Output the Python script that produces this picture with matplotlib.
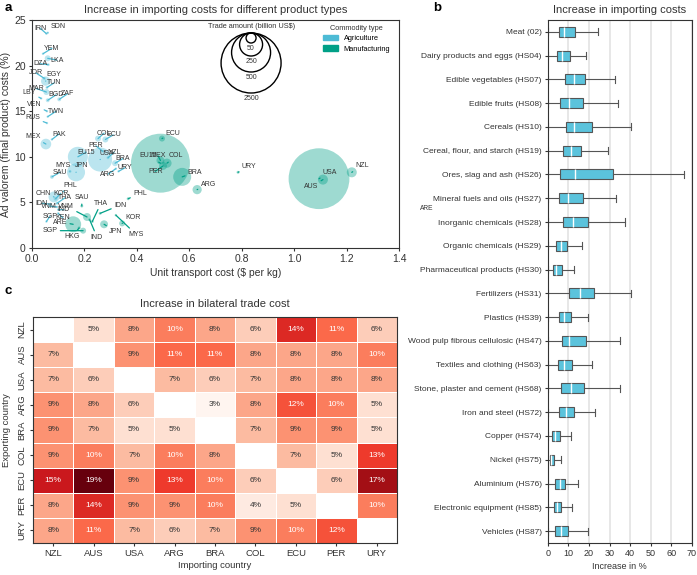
import matplotlib
matplotlib.use("Agg")
import matplotlib.pyplot as plt
from matplotlib.patches import Patch
import numpy as np

plt.rcParams["font.family"] = ["Liberation Sans", "DejaVu Sans"]

AGRI = "#4DBBD5"
MANU = "#00A087"
BOX = "#5BC3DC"
DARK = "#333333"
DPI = 100

# ---------------- panel a data ----------------
agri_names = ["IRN", "SDN", "YEM", "LKA", "DZA", "JOR", "EGY", "TUN", "MAR", "LBY",
              "BGD", "ZAF", "VEN", "TWN", "RUS", "MEX", "PAK", "COL", "ECU", "PER",
              "EU15", "USA", "NZL", "BRA", "URY", "ARG", "MYS", "JPN", "SAU", "CHN",
              "KOR", "PHL", "THA", "IDN", "VNM", "IND", "SGP", "KEN"]
agri_x = [0.055, 0.06, 0.042, 0.06, 0.062, 0.047, 0.052, 0.057, 0.055, 0.035,
          0.06, 0.104, 0.057, 0.06, 0.057, 0.053, 0.076, 0.252, 0.28, 0.27,
          0.175, 0.26, 0.29, 0.317, 0.33, 0.32, 0.145, 0.168, 0.076, 0.084,
          0.09, 0.12, 0.095, 0.07, 0.095, 0.10, 0.055, 0.10]
agri_y = [23.5, 23.6, 21.3, 20.8, 20.1, 18.6, 18.3, 17.6, 17.1, 16.4,
          16.2, 16.3, 15.0, 14.4, 13.7, 11.4, 11.9, 12.0, 11.9, 10.6,
          10.0, 9.7, 9.9, 9.3, 8.4, 8.7, 8.4, 8.3, 7.8, 5.6,
          5.4, 6.2, 4.9, 4.8, 4.5, 4.2, 2.9, 3.8]
agri_trade = [3, 3, 3, 25, 6, 6, 45, 6, 25, 3,
              12, 12, 3, 3, 3, 60, 3, 25, 25, 3,
              204, 266, 6, 25, 3, 3, 6, 173, 12, 65,
              12, 3, 6, 6, 3, 3, 3, 3]
agri_lab_x = [0.031, 0.099, 0.076, 0.095, 0.031, 0.015, 0.084, 0.084, 0.015, -0.01,
              0.092, 0.135, 0.008, 0.092, 0.004, 0.004, 0.103, 0.275, 0.31, 0.244,
              0.206, 0.286, 0.313, 0.347, 0.355, 0.29, 0.118, 0.19, 0.107, 0.042,
              0.11, 0.145, 0.126, 0.038, 0.065, 0.122, 0.069, 0.118]
agri_lab_y = [24.1, 24.3, 21.9, 20.6, 20.2, 19.2, 19.0, 18.1, 17.5, 17.1,
              16.8, 16.9, 15.7, 15.0, 14.3, 12.2, 12.5, 12.6, 12.4, 11.2,
              10.5, 10.4, 10.5, 9.8, 8.8, 8.1, 9.1, 9.0, 8.3, 6.0,
              6.0, 6.9, 5.5, 4.9, 4.6, 4.2, 3.5, 3.3]

manu_names = ["ECU", "EU15", "MEX", "COL", "PER", "BRA", "ARG", "URY", "USA", "AUS",
              "NZL", "PHL", "IDN", "THA", "IND", "SGP", "HKG", "JPN", "KOR", "MYS",
              "SAU", "VNM", "ARE"]
manu_x = [0.496, 0.49, 0.49, 0.515, 0.50, 0.573, 0.63, 0.786, 1.095, 1.11,
          1.22, 0.367, 0.26, 0.23, 0.22, 0.195, 0.18, 0.275, 0.344, 0.32,
          0.19, 0.21, 0.157]
manu_y = [12.0, 9.3, 9.6, 9.3, 9.0, 7.8, 6.4, 8.3, 7.6, 7.5,
          8.3, 5.4, 3.8, 2.9, 3.1, 1.9, 2.2, 2.6, 2.7, 3.6,
          4.6, 3.4, 2.6]
manu_trade = [25, 2400, 37, 45, 37, 173, 45, 6, 2600, 50,
              50, 6, 6, 6, 6, 25, 6, 37, 25, 3,
              6, 37, 142]
manu_lab_x = [0.538, 0.443, 0.481, 0.55, 0.47, 0.622, 0.672, 0.828, 1.137, 1.065,
              1.26, 0.412, 0.336, 0.263, 0.248, 0.069, 0.153, 0.32, 0.385, 0.397,
              0.19, 0.13, 0.107]
manu_lab_y = [12.6, 10.1, 10.1, 10.1, 8.4, 8.3, 7.0, 8.9, 8.3, 6.7,
              9.0, 6.0, 4.7, 4.9, 1.2, 1.9, 1.3, 1.8, 3.3, 1.5,
              5.5, 4.6, 2.85]

size_breaks = [50, 250, 500, 2500]
# radius (px) scale for bubble sizes
SIZE_V = [0, 50, 250, 500, 2500, 5000]
SIZE_R = [1, 5, 11.5, 19.5, 30, 40]

# ---------------- panel b data ----------------
products = ["Meat (02)", "Dairy products and eggs (HS04)", "Edible vegetables (HS07)",
            "Edible fruits (HS08)", "Cereals (HS10)", "Cereal, flour, and starch (HS19)",
            "Ores, slag and ash (HS26)", "Mineral fuels and oils (HS27)",
            "Inorganic chemicals (HS28)", "Organic chemicals (HS29)",
            "Pharmaceutical products (HS30)", "Fertilizers (HS31)", "Plastics (HS39)",
            "Wood pulp fibrous cellulosic (HS47)", "Textiles and clothing (HS63)",
            "Stone, plaster and cement (HS68)", "Iron and steel (HS72)", "Copper (HS74)",
            "Nickel (HS75)", "Aluminium (HS76)", "Electronic equipment (HS85)",
            "Vehicles (HS87)"]
box_lo = [0.0] * 22
box_q1 = [5.2, 4.4, 8.1, 6.0, 8.6, 7.3, 5.7, 5.4, 7.3, 3.9, 2.4, 10.3, 5.4, 6.7,
          5.0, 6.4, 5.4, 2.1, 1.0, 3.7, 2.9, 3.4]
box_med = [7.7, 6.8, 12.5, 10.3, 12.7, 11.4, 13.0, 9.6, 12.2, 6.5, 4.2, 15.8, 8.0, 10.3,
           7.8, 11.4, 8.8, 3.4, 1.6, 5.7, 4.4, 6.5]
box_q3 = [13.0, 10.7, 18.1, 17.1, 21.7, 16.3, 31.9, 16.9, 19.5, 9.1, 6.8, 22.6, 11.2, 18.4,
          11.9, 17.8, 12.5, 5.9, 2.9, 8.3, 6.5, 9.6]
box_hi = [24.4, 18.7, 32.6, 34.0, 40.6, 29.3, 66.4, 32.9, 37.6, 16.6, 12.9, 40.6, 19.4, 35.2,
          21.5, 35.0, 23.0, 11.4, 6.5, 14.7, 11.9, 19.5]

# ---------------- panel c data ----------------
countries = ["NZL", "AUS", "USA", "ARG", "BRA", "COL", "ECU", "PER", "URY"]
N = np.nan
bilateral = [
    [N, 5, 8, 10, 8, 6, 14, 11, 6],
    [7, N, 9, 11, 11, 8, 8, 8, 10],
    [7, 6, N, 7, 6, 7, 8, 8, 8],
    [9, 8, 6, N, 3, 8, 12, 10, 5],
    [9, 7, 5, 5, N, 7, 9, 9, 5],
    [9, 10, 7, 10, 8, N, 7, 5, 13],
    [15, 19, 9, 13, 10, 6, N, 6, 17],
    [8, 14, 9, 9, 10, 4, 5, N, 10],
    [8, 11, 7, 6, 7, 9, 10, 12, N],
]


def style_axes(ax):
    for sp in ax.spines.values():
        sp.set_color(DARK)
        sp.set_linewidth(0.8)
    ax.tick_params(length=2.5, width=0.8, pad=2, color=DARK, labelcolor=DARK)


def marker_area(trade):
    r = np.interp(trade, SIZE_V, SIZE_R)
    return (2 * r * 72 / DPI) ** 2


fig = plt.figure(figsize=(6.97, 5.75), dpi=DPI)
ax_a = fig.add_axes([0.0459, 0.5687, 0.5265, 0.3965])
ax_b = fig.add_axes([0.786, 0.0557, 0.2066, 0.9096])
ax_c = fig.add_axes([0.0473, 0.0557, 0.5222, 0.393])

# ---------------- panel a ----------------
groups = [
    (agri_names, agri_x, agri_y, agri_trade, agri_lab_x, agri_lab_y, AGRI),
    (manu_names, manu_x, manu_y, manu_trade, manu_lab_x, manu_lab_y, MANU),
]
for names, xs, ys, tr, lxs, lys, col in groups:
    ax_a.scatter(xs, ys, s=marker_area(tr), color=col, alpha=0.38, linewidths=0, zorder=2)
    for n, x, y, lx, ly in zip(names, xs, ys, lxs, lys):
        ax_a.annotate(n, xy=(x, y), xytext=(lx, ly), fontsize=5, color=DARK,
                      ha="center", va="center", annotation_clip=False, zorder=3,
                      arrowprops=dict(arrowstyle="-", color=col, lw=0.9,
                                      shrinkA=0, shrinkB=0))

ax_a.set_xlim(0, 1.4)
ax_a.set_ylim(0, 25)
ax_a.set_xticks(np.arange(0, 1.41, 0.2))
ax_a.set_yticks(range(0, 26, 5))
style_axes(ax_a)
ax_a.tick_params(labelsize=7.5)
ax_a.set_xlabel("Unit transport cost ($ per kg)", fontsize=7.5, color=DARK, labelpad=3)
ax_a.set_ylabel("Ad valorem (final product) costs (%)", fontsize=7.5, color=DARK)
ax_a.yaxis.set_label_coords(-0.058, 0.5)
ax_a.set_title("Increase in importing costs for different product types", fontsize=8,
               color=DARK, pad=5)

# size legend (nested circles, top aligned)
ax_h = 0.3965 * 575
top = 0.943
cx = 0.597
for v in size_breaks:
    r = np.interp(v, SIZE_V, SIZE_R)
    ax_a.scatter([cx], [top - r / ax_h], s=marker_area(v), transform=ax_a.transAxes,
                 facecolors="none", edgecolors="black", linewidths=1.0, clip_on=False, zorder=4)
    ax_a.text(cx, top - (2 * r + 5) / ax_h, str(v), transform=ax_a.transAxes, fontsize=5,
              ha="center", va="center", color=DARK)
ax_a.text(cx, 0.972, "Trade amount (billion US$)", transform=ax_a.transAxes, fontsize=5.3,
          ha="center", va="center", color=DARK)

leg = ax_a.legend(handles=[Patch(color=AGRI, label="Agriculture"),
                           Patch(color=MANU, label="Manufacturing")],
                  title="Commodity type", loc="upper right", bbox_to_anchor=(0.99, 1.0),
                  frameon=False, fontsize=5.3, title_fontsize=5.3, handlelength=2.0,
                  handleheight=0.75, labelspacing=0.4, borderaxespad=0.3)
leg.get_title().set_color(DARK)

fig.text(0.612, 0.638, "ARE", fontsize=4.8, color=DARK, ha="center", va="center")

# ---------------- panel b ----------------
stats = [dict(label=p, whislo=lo, q1=a, med=m, q3=b, whishi=h, fliers=[])
         for p, lo, a, m, b, h in zip(products, box_lo, box_q1, box_med, box_q3, box_hi)]
ax_b.bxp(stats, positions=range(len(products)), orientation="horizontal", widths=0.42,
         patch_artist=True, capwidths=0.3, showfliers=False,
         boxprops=dict(facecolor=BOX, edgecolor="#555555", linewidth=0.8),
         medianprops=dict(color="white", linewidth=1.0),
         whiskerprops=dict(color="#555555", linewidth=0.8),
         capprops=dict(color="#555555", linewidth=0.8))
ax_b.set_ylim(len(products) - 0.5, -0.5)
ax_b.set_xlim(0, 70)
ax_b.set_xticks(range(0, 71, 10))
ax_b.set_yticks(range(len(products)))
ax_b.set_yticklabels(products)
style_axes(ax_b)
ax_b.tick_params(axis="y", labelsize=6)
ax_b.tick_params(axis="x", labelsize=6.5)
ax_b.grid(axis="x", color="#E3E3E3", linewidth=1.2)
ax_b.set_axisbelow(True)
ax_b.set_xlabel("Increase in %", fontsize=6.5, color=DARK, labelpad=3)
ax_b.set_title("Increase in importing costs", fontsize=8, color=DARK, pad=5)

# ---------------- panel c ----------------
mat = np.ma.masked_invalid(np.array(bilateral, dtype=float))
ax_c.pcolormesh(np.arange(10), np.arange(10), mat, cmap="Reds", vmin=3, vmax=19,
                edgecolors="white", linewidth=0.7)
for i, row in enumerate(bilateral):
    for j, v in enumerate(row):
        if np.isnan(v):
            continue
        ax_c.text(j + 0.5, i + 0.5, f"{v:.0f}%", ha="center", va="center", fontsize=6,
                  color="white" if v >= 10 else DARK)
ax_c.set_xlim(0, 9)
ax_c.set_ylim(9, 0)
ax_c.set_xticks(np.arange(9) + 0.5)
ax_c.set_xticklabels(countries)
ax_c.set_yticks(np.arange(9) + 0.5)
ax_c.set_yticklabels(countries, rotation=90, va="center")
style_axes(ax_c)
ax_c.tick_params(labelsize=6.8)
ax_c.set_xlabel("Importing country", fontsize=6.8, color=DARK, labelpad=2)
ax_c.set_ylabel("Exporting country", fontsize=6.8, color=DARK)
ax_c.yaxis.set_label_coords(-0.06, 0.5)
ax_c.set_title("Increase in bilateral trade cost", fontsize=8, color=DARK, pad=7)

# panel letters
fig.text(0.007, 0.997, "a", fontsize=9.5, fontweight="bold", va="top")
fig.text(0.621, 0.997, "b", fontsize=9.5, fontweight="bold", va="top")
fig.text(0.007, 0.504, "c", fontsize=9.5, fontweight="bold", va="top")

fig.savefig("out.png", dpi=DPI, facecolor="white")
